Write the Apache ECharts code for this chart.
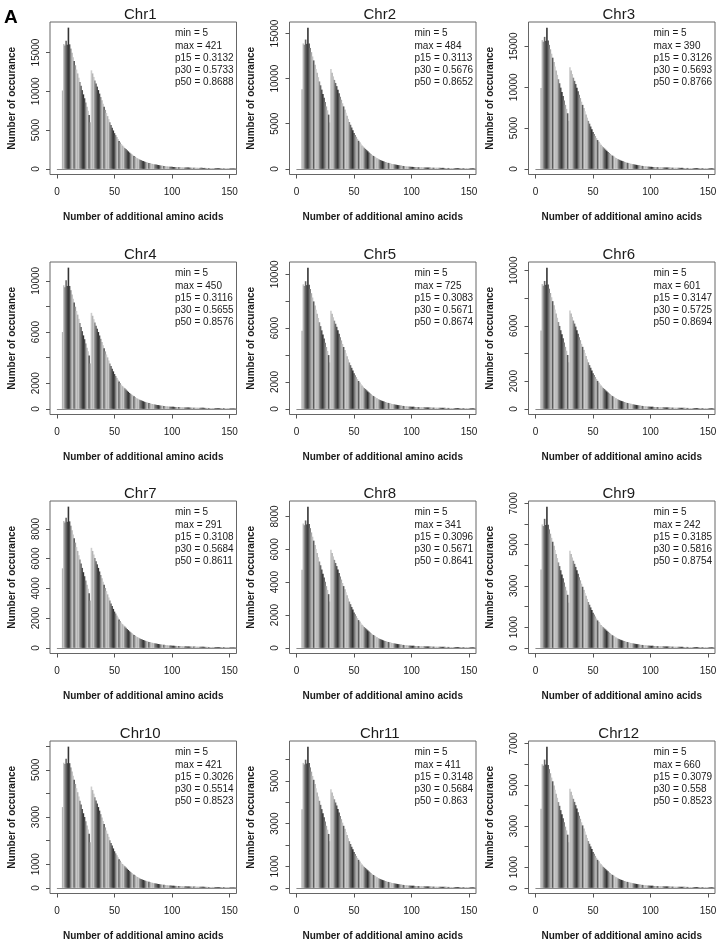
<!DOCTYPE html>
<html><head><meta charset="utf-8">
<script src="https://cdn.jsdelivr.net/npm/echarts@6/dist/echarts.min.js"></script>
<style>html,body{margin:0;padding:0;background:#fff}#c{width:722px;height:942px}</style>
</head><body><div id="c"></div>
<script>
// ---------- data ----------
const chromosomes = ['Chr1','Chr2','Chr3','Chr4','Chr5','Chr6','Chr7','Chr8','Chr9','Chr10','Chr11','Chr12'];
const firstLength = 5; // counts below start at 5 additional amino acids, one value per length

const chr1 = [10100,16100,15900,16500,16000,18200,16050,15500,14950,14400,13900,13350,12800,12300,11750,11200,10700,10150,9600,9100,8550,8000,7500,6950,6000,
12700,12300,11850,11400,11000,10600,10150,9700,9250,8850,8400,8000,7600,7200,6800,6400,6000,5650,5300,4950,4600,4350,4100,3850,3600,3400,
3200,3000,2850,2700,2550,2400,2250,2100,1980,1870,1760,1650,1550,1450,1360,1280,1200,1130,1060,1000,940,890,840,800,760,
720,680,640,610,580,550,520,490,465,440, 415,390,370,350,332,315,300,286,273,260, 250,241,232,224,217,210,203,197,191,185,
180,175,170,166,162,158,154,150,147,144, 141,138,135,132,130,127,125,122,120,118, 116,114,112,110,108,106,104,103,101,99,
98,96,95,93,92,90,89,88,86,85,84,83,82,81,80];
const chr2 = [8820,13900,13750,14330,13850,15650,13900,13400,12930,12460,12020,11550,11070,10640,10160,9690,9260,8780,8300,7870,7400,6920,6490,6010,5140,
11060,10640,10250,9860,9520,9170,8780,8390,8000,7660,7270,6920,6570,6230,5880,5540,5190,4890,4580,4280,3980,3760,3550,3330,3110,2940,
2770,2600,2470,2340,2210,2080,1950,1820,1710,1620,1520,1430,1340,1250,1180,1110,1040,980,920,865,810,770,730,690,660,
620,590,550,530,500,480,450,420,400,380, 360,340,320,303,288,273,260,248,237,225, 216,208,200,194,188,182,176,171,166,161,
156,152,148,144,141,137,134,131,128,125, 122,120,117,115,113,110,108,106,104,102, 100,99,97,95,94,92,90,89,88,86,
85,84,82,81,80,78,77,76,75,74,73,72,71,70,70];
const chr3 = [9900,15780,15580,16170,15680,17300,15730,15190,14650,14110,13620,13080,12540,12050,11520,10980,10490,9950,9410,8920,8380,7840,7350,6810,5880,
12450,12050,11610,11170,10780,10390,9950,9510,9070,8670,8230,7840,7450,7060,6660,6270,5880,5540,5190,4850,4510,4260,4020,3770,3530,3330,
3140,2940,2790,2650,2500,2350,2210,2060,1940,1830,1720,1620,1520,1420,1330,1250,1180,1110,1040,980,920,870,820,780,740,
710,670,630,600,570,540,510,480,456,431, 407,382,363,343,325,309,294,280,268,255, 245,236,227,220,213,206,199,193,187,181,
176,172,167,163,159,155,151,147,144,141, 138,135,132,129,127,124,123,120,118,116, 114,112,110,108,106,104,102,101,99,97,
96,94,93,91,90,88,87,86,84,83,82,81,80,79,78];
const chr4 = [6000,9650,9500,10050,9600,11030,9600,9270,8940,8610,8310,7980,7650,7360,7030,6700,6400,6070,5740,5440,5110,4780,4490,4160,3550,
7500,7270,7000,6740,6500,6260,6000,5730,5470,5230,4960,4730,4490,4250,4020,3780,3550,3340,3130,2930,2720,2570,2420,2280,2130,2010,
1890,1770,1680,1600,1510,1420,1330,1240,1170,1100,1040,975,915,855,805,755,710,670,625,590,555,525,495,470,450,
425,400,380,360,345,325,305,290,275,260, 248,236,225,213,204,195,186,177,171,165, 160,154,148,143,139,135,131,127,123,119,
116,113,110,107,104,102,99,97,95,92, 90,88,86,85,83,81,79,77,76,74, 73,72,71,70,69,67,66,65,64,63,
62,60,59,58,57,56,54,53,52,51,51,50,50,49,48];
const chr5 = [5810,9260,9140,9490,9200,10500,9230,8910,8600,8280,7990,7680,7360,7070,6760,6440,6150,5840,5520,5230,4920,4600,4310,4000,3450,
7300,7070,6810,6560,6330,6100,5840,5580,5320,5090,4830,4600,4370,4140,3910,3680,3450,3250,3050,2850,2650,2500,2360,2210,2070,1960,
1840,1730,1640,1550,1470,1380,1290,1210,1140,1080,1010,950,890,830,780,740,690,650,610,575,540,510,480,460,440,
415,390,370,350,335,315,300,280,267,253, 240,230,218,207,198,190,181,173,167,161, 155,150,144,139,135,131,127,123,120,116,
113,110,107,104,101,99,97,94,92,90, 87,86,84,82,80,79,77,75,74,72, 71,70,69,68,67,66,64,63,62,61,
60,59,58,56,55,54,53,52,51,50,49,49,48,48,47];
const chr6 = [5660,9020,8900,9240,8960,10200,8990,8680,8370,8060,7780,7480,7170,6890,6580,6270,5990,5680,5380,5100,4790,4480,4200,3890,3360,
7110,6890,6640,6380,6160,5940,5680,5430,5180,4960,4700,4480,4260,4030,3810,3580,3360,3160,2970,2770,2580,2440,2300,2160,2020,1900,
1790,1680,1600,1510,1430,1340,1260,1180,1110,1050,990,920,870,810,760,720,670,630,590,560,530,500,470,450,425,
405,380,360,340,325,308,290,275,260,246, 235,224,213,202,193,185,176,168,162,157, 151,146,140,136,132,128,124,120,116,113,
110,107,104,101,99,96,94,92,90,87, 85,83,82,80,78,77,75,73,72,71, 69,68,67,66,65,64,63,62,60,59,
58,57,56,55,54,53,52,50,49,49,48,48,47,46,46];
const chr7 = [5350,8530,8430,8750,8480,9500,8510,8220,7920,7630,7370,7080,6780,6520,6230,5940,5670,5380,5090,4820,4530,4240,3980,3680,3180,
6730,6520,6280,6040,5830,5620,5380,5140,4900,4690,4450,4240,4030,3820,3600,3390,3180,2990,2810,2620,2440,2310,2170,2040,1910,1800,
1700,1590,1510,1430,1350,1270,1190,1110,1050,990,930,870,820,770,720,680,640,600,560,530,500,470,445,425,400,
380,360,340,323,307,292,276,260,246,233, 223,212,201,191,183,175,167,159,154,148, 143,138,133,128,125,121,117,113,110,107,
104,101,99,96,93,91,89,87,85,83, 81,79,77,76,74,73,71,69,68,67, 66,65,64,63,61,60,59,58,57,56,
55,54,53,52,51,50,49,48,47,46,46,45,45,44,43];
const chr8 = [4750,7570,7470,7760,7520,8600,7540,7290,7030,6770,6530,6270,6020,5780,5520,5260,5030,4770,4510,4280,4020,3760,3530,3270,2820,
5970,5780,5570,5360,5170,4980,4770,4560,4350,4160,3950,3760,3570,3380,3200,3010,2820,2660,2490,2330,2160,2040,1930,1810,1690,1600,
1500,1410,1340,1270,1200,1130,1060,990,930,880,830,780,730,680,640,600,560,530,500,470,440,420,395,375,357,
338,320,300,287,273,259,244,230,219,207, 197,188,179,169,162,155,148,141,136,132, 127,122,118,114,110,107,104,101,98,95,
92,90,87,85,83,81,79,77,75,73, 71,70,69,67,66,64,63,62,60,59, 58,57,56,55,55,54,53,52,51,50,
49,48,47,46,45,44,43,42,41,41,40,40,39,39,39];
const chr9 = [3800,5980,5900,6250,5950,6840,5960,5740,5530,5330,5140,4940,4740,4550,4350,4140,3960,3760,3550,3370,3160,2960,2780,2570,2190,
4700,4550,4380,4220,4070,3920,3760,3590,3420,3270,3110,2960,2810,2660,2520,2370,2220,2090,1960,1830,1700,1610,1520,1420,1330,1260,
1180,1110,1050,1000,940,890,830,780,730,690,650,610,570,540,500,470,440,420,390,370,350,330,310,296,281,
266,252,237,226,215,204,192,181,172,163, 155,148,141,133,128,122,117,111,107,104, 100,96,93,90,87,84,82,79,77,75,
73,71,69,67,65,64,62,61,59,58, 56,55,54,53,52,51,50,48,47,47, 46,45,44,44,43,42,41,41,40,39,
38,38,37,36,36,35,34,33,33,32,32,31,31,31,30];
const chr10 = [3420,5300,5250,5470,5280,5980,5280,5100,4930,4750,4580,4400,4220,4050,3870,3690,3530,3340,3160,3000,2820,2640,2470,2290,1930,
4290,4140,3990,3840,3700,3570,3420,3270,3120,2980,2830,2700,2560,2430,2290,2160,2020,1900,1790,1670,1550,1460,1380,1300,1210,1150,
1080,1010,960,910,860,810,760,710,670,630,590,560,520,490,460,430,400,380,355,335,315,300,280,268,255,
241,228,215,204,194,184,174,164,156,148, 141,134,127,121,116,111,106,101,97,94, 91,87,84,81,79,76,74,72,70,68,
66,64,62,61,59,58,56,55,54,52, 51,50,49,48,47,46,45,44,43,42, 42,41,40,40,39,38,38,37,36,36,
35,34,34,33,32,32,31,30,30,29,29,28,28,28,27];
const chr11 = [3670,5840,5770,5990,5810,6600,5830,5630,5430,5230,5050,4850,4650,4460,4270,4070,3880,3680,3490,3300,3100,2900,2720,2520,2180,
4610,4460,4300,4140,3990,3850,3680,3520,3360,3210,3050,2900,2760,2610,2470,2320,2180,2050,1920,1800,1670,1580,1490,1400,1310,1230,
1160,1090,1030,980,930,870,820,760,720,680,640,600,560,530,490,465,435,410,385,363,341,323,305,290,276,
261,247,232,221,211,200,189,178,169,160, 153,145,138,131,125,120,114,109,105,102, 98,94,91,88,85,83,80,78,76,73,
71,69,68,66,64,62,61,60,58,57, 55,54,53,52,51,50,49,48,46,46, 45,44,44,43,42,41,41,40,39,38,
38,37,36,36,35,34,33,33,32,32,31,31,30,30,30];
const chr12 = [3840,6000,5930,6220,5980,6850,5960,5760,5560,5350,5170,4960,4760,4570,4370,4160,3980,3770,3570,3380,3180,2970,2790,2580,2210,
4810,4660,4490,4320,4170,4010,3850,3670,3500,3350,3180,3030,2880,2730,2580,2420,2270,2140,2010,1880,1740,1650,1550,1460,1360,1290,
1210,1140,1080,1020,970,910,850,800,750,710,670,630,590,550,515,485,455,430,400,380,357,338,319,304,289,
273,258,243,232,221,209,198,186,177,167, 160,152,144,137,131,125,120,114,110,106, 103,99,95,92,89,86,84,81,79,77,
75,73,71,69,67,65,64,62,61,59, 58,57,55,54,53,52,51,50,49,48, 47,46,45,45,44,43,42,42,41,40,
39,39,38,37,36,36,35,34,33,33,32,32,32,31,31];
const seriesValues = [chr1,chr2,chr3,chr4,chr5,chr6,chr7,chr8,chr9,chr10,chr11,chr12];

const statMin = ['5','5','5','5','5','5','5','5','5','5','5','5'];
const statMax = ['421','484','390','450','725','601','291','341','242','421','411','660'];
const statP15 = ['0.3132','0.3113','0.3126','0.3116','0.3083','0.3147','0.3108','0.3096','0.3185','0.3026','0.3148','0.3079'];
const statP30 = ['0.5733','0.5676','0.5693','0.5655','0.5671','0.5725','0.5684','0.5671','0.5816','0.5514','0.5684','0.558'];
const statP50 = ['0.8688','0.8652','0.8766','0.8576','0.8674','0.8694','0.8611','0.8641','0.8754','0.8523','0.863','0.8523'];

const xTickValues = [0, 50, 100, 150];
const yTickValues = [
  [0,5000,10000,15000],[0,5000,10000,15000],[0,5000,10000,15000],
  [0,2000,4000,6000,8000,10000],[0,2000,4000,6000,8000,10000],[0,2000,4000,6000,8000,10000],
  [0,2000,4000,6000,8000],[0,2000,4000,6000,8000],[0,1000,2000,3000,4000,5000,6000,7000],
  [0,1000,2000,3000,4000,5000,6000],[0,1000,2000,3000,4000,5000,6000],[0,1000,2000,3000,4000,5000,6000,7000]
];
const yLabelValues = [
  [0,5000,10000,15000],[0,5000,10000,15000],[0,5000,10000,15000],
  [0,2000,6000,10000],[0,2000,6000,10000],[0,2000,6000,10000],
  [0,2000,4000,6000,8000],[0,2000,4000,6000,8000],[0,1000,3000,5000,7000],
  [0,1000,3000,5000],[0,1000,3000,5000],[0,1000,3000,5000,7000]
];
const xTitle = 'Number of additional amino acids';
const yTitle = 'Number of occurance';
const panelLetter = 'A';

// ---------- style / layout ----------
const greys = ['#a8a8a8','#c0c0c0','#5a5a5a','#9c9c9c','#cdcdcd','#b4b4b4','#c4c4c4','#8e8e8e','#686868','#505050','#333333','#474747','#7f7f7f'];
const FONT = '"Liberation Sans", Arial, Helvetica, sans-serif';
const TXT = '#1a1a1a';
const colLeft = [50, 289.5, 528.5];
const boxW = 186.5;
const rowTop = [22, 262, 501, 741];
const boxH = 152.5;
const X_MIN = -6, X_MAX = 156;

const grids = [], xAxes = [], yAxes = [], series = [], graphics = [];
seriesValues.forEach((vals, i) => {
  const r = Math.floor(i / 3), c = i % 3;
  const left = colLeft[c], top = rowTop[r];
  const vmax = Math.max.apply(null, vals);
  grids.push({left: left, top: top, width: boxW, height: boxH, show: true,
    borderColor: '#666', borderWidth: 1, backgroundColor: 'transparent', containLabel: false, outerBoundsMode: 'none'});
  xAxes.push({gridIndex: i, type: 'value', min: X_MIN, max: X_MAX,
    splitLine: {show: false}, axisLine: {show: false, onZero: false},
    axisTick: {show: true, length: 4, customValues: xTickValues, lineStyle: {color: '#555'}},
    axisLabel: {customValues: xTickValues, margin: 13, fontSize: 10, color: TXT, fontFamily: FONT},
    name: xTitle, nameLocation: 'middle', nameGap: 38, nameMoveOverlap: false,
    nameTextStyle: {fontSize: 10, fontWeight: 'bold', color: TXT, fontFamily: FONT}});
  yAxes.push({gridIndex: i, type: 'value', min: -0.04 * vmax, max: 1.04 * vmax,
    splitLine: {show: false}, axisLine: {show: false, onZero: false},
    axisTick: {show: true, length: 4, customValues: yTickValues[i], lineStyle: {color: '#555'}},
    axisLabel: {customValues: yLabelValues[i], formatter: v => String(v), rotate: 90, margin: 9, fontSize: 10, color: TXT, fontFamily: FONT},
    name: yTitle, nameLocation: 'middle', nameGap: 33, nameMoveOverlap: false,
    nameTextStyle: {fontSize: 10, fontWeight: 'bold', color: TXT, fontFamily: FONT}});
  series.push({type: 'bar', xAxisIndex: i, yAxisIndex: i, barWidth: 1.6, animation: false,
    data: vals.map((v, j) => [firstLength + j, v]),
    itemStyle: {color: p => greys[(firstLength + p.dataIndex) % greys.length]},
    markLine: {silent: true, symbol: 'none', label: {show: false}, animation: false,
      lineStyle: {color: '#8a8a8a', width: 1, type: 'solid'},
      data: [[{coord: [0, 0]}, {coord: [X_MAX, 0]}]]}});
  graphics.push({type: 'text', x: left + boxW / 2 - 3, y: top - 7.5,
    style: {text: chromosomes[i], font: '15px ' + FONT, fill: TXT, align: 'center', verticalAlign: 'middle'}});
  graphics.push({type: 'text', x: left + 125, y: top + 5.5,
    style: {text: ['min = ' + statMin[i], 'max = ' + statMax[i], 'p15 = ' + statP15[i], 'p30 = ' + statP30[i], 'p50 = ' + statP50[i]].join('\n'),
      font: '10px ' + FONT, fill: TXT, align: 'left', verticalAlign: 'top', lineHeight: 12.2}});
});
graphics.push({type: 'text', x: 4, y: 18,
  style: {text: panelLetter, fill: '#000', align: 'left', verticalAlign: 'middle',
    fontFamily: 'Liberation Sans', fontWeight: 'bold', fontSize: 19}});

const chart = echarts.init(document.getElementById('c'), null, {renderer: 'canvas'});
chart.setOption({animation: false, backgroundColor: '#fff', grid: grids, xAxis: xAxes, yAxis: yAxes, series: series, graphic: graphics});
</script>
</body></html>
